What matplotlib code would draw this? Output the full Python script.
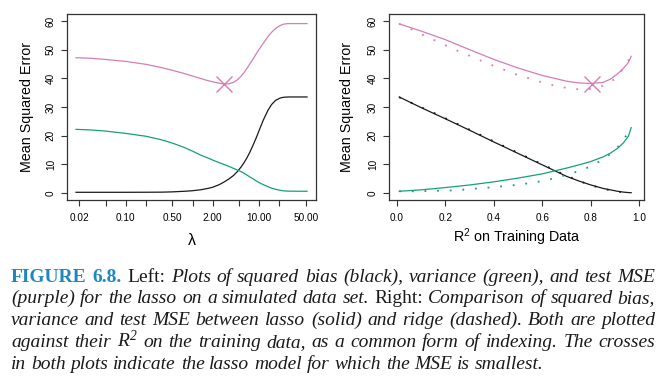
import matplotlib
matplotlib.use("Agg")
import matplotlib.pyplot as plt
import matplotlib.transforms as mtransforms
from matplotlib.ticker import NullLocator, FixedLocator, FixedFormatter

plt.rcParams['font.family'] = ['Liberation Sans', 'DejaVu Sans']
plt.rcParams['mathtext.default'] = 'regular'

# ---- left panel: lasso, against lambda
lam = [0.018, 0.03, 0.05, 0.1, 0.2, 0.35, 0.5, 0.75, 1.0, 1.3, 1.7, 2.0, 2.5,
       3.0, 3.5, 4.1, 4.7, 5.3, 5.8, 6.5, 7.2, 8.1, 9.0, 10.0, 11.5, 13.5,
       15.3, 17.5, 20.4, 23.0, 27.0, 51.8]
lam_mse = [47.2, 47.0, 46.6, 45.9, 44.9, 43.7, 42.8, 41.7, 40.8, 40.0, 39.2,
           38.8, 38.3, 38.0, 38.1, 38.6, 39.5, 40.7, 41.8, 43.4, 45.0, 46.8,
           48.6, 50.2, 52.3, 54.6, 56.1, 57.4, 58.4, 58.9, 59.1, 59.1]
lam_bias = [0.25, 0.25, 0.25, 0.25, 0.27, 0.3, 0.4, 0.6, 0.8, 1.1, 1.6,
            2.0, 2.9, 3.9, 4.9, 6.1, 7.5, 9.0, 10.3, 12.2, 14.2, 16.8,
            19.3, 22.0, 25.5, 28.9, 30.9, 32.3, 33.1, 33.4, 33.5, 33.5]
lam_var = [22.2, 22.0, 21.6, 20.8, 19.8, 18.5, 17.4, 15.9, 14.6, 13.3, 12.2,
           11.5, 10.6, 9.9, 9.3, 8.6, 8.0, 7.5, 7.0, 6.3, 5.6, 4.9,
           4.2, 3.6, 2.9, 2.2, 1.7, 1.3, 0.95, 0.75, 0.65, 0.6]
lam_best = 2.97
lam_best_mse = 38.0

lam_ticks = [0.02, 0.05, 0.1, 0.2, 0.5, 1, 2, 5, 10, 20, 50]
lam_labels = ['0.02', '', '0.10', '', '0.50', '', '2.00', '', '10.00', '', '50.00']

# ---- right panel: lasso (solid) vs ridge (dotted), against training R^2
r2_lasso = [0.01, 0.1, 0.2, 0.3, 0.4, 0.5, 0.6, 0.65, 0.7, 0.75, 0.8, 0.85,
            0.88, 0.91, 0.935, 0.955, 0.966]
lasso_mse = [59.0, 56.5, 53.5, 50.0, 46.6, 43.6, 41.0, 40.0, 39.0, 38.4, 38.2,
             38.6, 39.7, 41.6, 43.6, 45.6, 47.7]
lasso_bias = [33.5, 29.8, 25.9, 21.9, 17.8, 13.8, 9.8, 7.8, 5.8, 4.2, 2.8, 1.6,
              1.1, 0.6, 0.3, 0.15, 0.1]
lasso_var = [0.6, 1.1, 1.9, 2.8, 3.9, 5.2, 6.7, 7.7, 8.7, 9.8, 11.0, 12.6,
             13.9, 15.6, 17.6, 19.9, 22.8]
r2_best = 0.806
r2_best_mse = 38.2

r2_ridge = [0.01, 0.03, 0.08, 0.128, 0.18, 0.23, 0.28, 0.33, 0.38, 0.43, 0.48,
            0.535, 0.587, 0.637, 0.69, 0.745, 0.80, 0.85, 0.90, 0.934, 0.962]
ridge_mse = [59.0, 58.4, 56.3, 54.3, 52.4, 50.3, 48.6, 46.8, 45.0, 43.4, 41.7,
             40.3, 38.9, 37.7, 36.8, 36.2, 36.3, 37.4, 39.8, 43.5, 47.2]
ridge_bias = [33.4, 32.6, 30.7, 28.9, 26.9, 24.9, 22.9, 20.9, 18.8, 16.8, 14.8,
              12.6, 10.5, 8.5, 6.4, 4.4, 2.7, 1.5, 0.6, 0.25, 0.1]
ridge_var = [0.6, 0.6, 0.6, 0.7, 0.8, 0.9, 1.2, 1.6, 1.9, 2.3, 2.7,
             3.3, 4.0, 4.9, 6.1, 7.5, 9.3, 11.7, 14.9, 18.4, 22.5]

PINK = '#D77CB5'
GREEN = '#15A07A'
BLACK = '#1a1a1a'

fig = plt.figure(figsize=(6.65, 3.83), dpi=100)
ax1 = fig.add_axes([0.1008, 0.4778, 0.3744, 0.4856])
ax2 = fig.add_axes([0.585, 0.4778, 0.3835, 0.4856])

lw = 0.9
ax1.plot(lam, lam_mse, color=PINK, lw=lw)
ax1.plot(lam, lam_bias, color=BLACK, lw=lw)
ax1.plot(lam, lam_var, color=GREEN, lw=lw)
ax1.plot([lam_best], [lam_best_mse], 'x', color=PINK, ms=11, mew=1.0)
ax1.set_xscale('log')
ax1.set_xlim(0.0132, 70.6)
ax1.xaxis.set_major_locator(FixedLocator(lam_ticks))
ax1.xaxis.set_major_formatter(FixedFormatter(lam_labels))
ax1.xaxis.set_minor_locator(NullLocator())
ax1.set_xlabel(r'$\lambda$', fontsize=11.5)
ax1.xaxis.label.set_va('center')
ax1.xaxis.set_label_coords(0.5, -0.215)

dots = (0, (1, 6))
ax2.plot(r2_lasso, lasso_mse, color=PINK, lw=lw)
ax2.plot(r2_lasso, lasso_bias, color=BLACK, lw=lw)
ax2.plot(r2_lasso, lasso_var, color=GREEN, lw=lw)
ax2.plot(r2_ridge, ridge_mse, color=PINK, lw=1.3, ls=dots, dash_capstyle='butt')
ax2.plot(r2_ridge, ridge_bias, color=BLACK, lw=1.3, ls=dots, dash_capstyle='butt')
ax2.plot(r2_ridge, ridge_var, color=GREEN, lw=1.3, ls=dots, dash_capstyle='butt')
ax2.plot([r2_best], [r2_best_mse], 'x', color=PINK, ms=11, mew=1.0)
ax2.set_xlim(-0.032, 1.019)
ax2.set_xticks([0.0, 0.2, 0.4, 0.6, 0.8, 1.0])
ax2.set_xticklabels(['0.0', '0.2', '0.4', '0.6', '0.8', '1.0'])
ax2.set_xlabel('R$^2$ on Training Data', fontsize=10.3)
ax2.xaxis.label.set_va('center')
ax2.xaxis.set_label_coords(0.5, -0.199)

for ax, lx in ((ax1, -0.161), (ax2, -0.165)):
    ax.set_ylim(-2.44, 62.44)
    ax.set_yticks([0, 10, 20, 30, 40, 50, 60])
    ax.set_ylabel('Mean Squared Error', fontsize=10.3)
    ax.yaxis.label.set_va('center')
    ax.yaxis.set_label_coords(lx, 0.5)
    ax.tick_params(direction='out', length=4, width=0.8, labelsize=7.2,
                   color='#333333', pad=4)
    ax.tick_params(axis='x', pad=5)
    for lab in ax.get_yticklabels():
        lab.set_rotation(90)
        lab.set_va('center')
    for sp in ax.spines.values():
        sp.set_linewidth(0.9)
        sp.set_color('#333333')

# ---- caption, justified word by word
cap_lines = [
    [("FIGURE 6.8.", "fig"), ("Left:", "rm"),
     ("Plots of squared bias (black), variance (green), and test MSE", "it")],
    [("(purple) for the lasso on a simulated data set.", "it"), ("Right:", "rm"),
     ("Comparison of squared bias,", "it")],
    [("variance and test MSE between lasso (solid) and ridge (dashed). Both are plotted", "it")],
    [("against their", "it"), ("$R^2$", "it"),
     ("on the training data, as a common form of indexing. The crosses", "it")],
    [("in both plots indicate the lasso model for which the MSE is smallest.", "it")],
]
cap_styles = {
    "fig": dict(family='Liberation Serif', weight='bold', color='#1F86C0'),
    "rm": dict(family='Liberation Serif', color='#1a1a1a'),
    "it": dict(family='Liberation Serif', style='italic', color='#1a1a1a'),
}
cap_left, cap_right = 11, 655
cap_base = [281.7, 303.4, 325.2, 347.0, 368.8]
H = 383
ident = mtransforms.IdentityTransform()
renderer = fig.canvas.get_renderer()


def build(size):
    rows = []
    for segs in cap_lines:
        words = []
        for txt, st in segs:
            for w in txt.split(' '):
                t = fig.text(0, 0, w, transform=ident, fontsize=size,
                             va='baseline', ha='left', **cap_styles[st])
                words.append(t)
        rows.append(words)
    return rows


size = 14.5
rows = build(size)
widths = [[t.get_window_extent(renderer).width for t in r] for r in rows]
space = 0.25 * size * 100 / 72
natural = max(sum(w) + space * (len(w) - 1) for w in widths)
if natural > (cap_right - cap_left):
    for r in rows:
        for t in r:
            t.remove()
    size = size * (cap_right - cap_left) / natural * 0.995
    rows = build(size)
    widths = [[t.get_window_extent(renderer).width for t in r] for r in rows]
    space = 0.25 * size * 100 / 72

for i, (r, w) in enumerate(zip(rows, widths)):
    if i < len(rows) - 1:
        gap = (cap_right - cap_left - sum(w)) / (len(w) - 1)
    else:
        gap = space
    x = cap_left
    for t, wi in zip(r, w):
        t.set_position((x, H - cap_base[i]))
        x += wi + gap

fig.savefig('out.png', dpi=100)
